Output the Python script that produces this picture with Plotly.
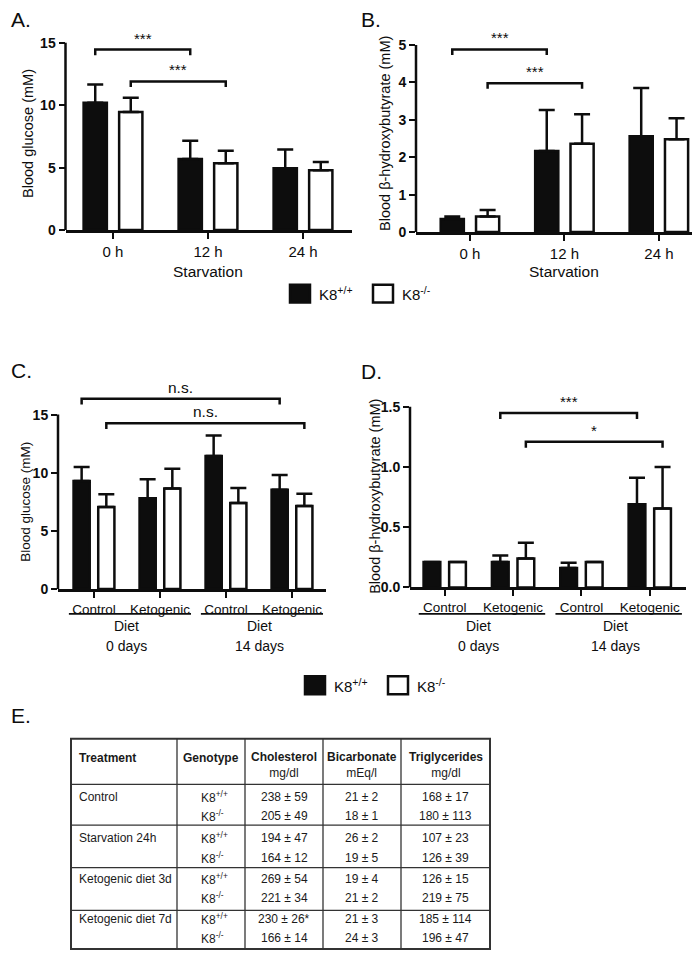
import plotly.graph_objects as go

W, H = 700, 953
FONT = "Liberation Sans, Arial, Helvetica, sans-serif"
INK = "#0d0d0d"

# ---------------- data ----------------
starvation_times = ["0 h", "12 h", "24 h"]
glucose_wt = [10.2, 5.7, 4.95]
glucose_wt_sd = [1.45, 1.45, 1.5]
glucose_ko = [9.45, 5.35, 4.8]
glucose_ko_sd = [1.15, 1.0, 0.65]

bhb_wt = [0.35, 2.17, 2.56]
bhb_wt_sd = [0.07, 1.09, 1.29]
bhb_ko = [0.42, 2.36, 2.48]
bhb_ko_sd = [0.17, 0.79, 0.56]

diet_labels = ["Control", "Ketogenic", "Control", "Ketogenic"]
diet_group_labels = ["0 days", "14 days"]
diet_glucose_wt = [9.3, 7.8, 11.45, 8.55]
diet_glucose_wt_sd = [1.2, 1.65, 1.75, 1.25]
diet_glucose_ko = [7.05, 8.65, 7.4, 7.15]
diet_glucose_ko_sd = [1.1, 1.7, 1.3, 1.05]
diet_bhb_wt = [0.21, 0.21, 0.16, 0.69]
diet_bhb_wt_sd = [0.0, 0.055, 0.045, 0.22]
diet_bhb_ko = [0.21, 0.24, 0.21, 0.655]
diet_bhb_ko_sd = [0.0, 0.13, 0.0, 0.345]

genotypes = ["K8<sup>+/+</sup>", "K8<sup>-/-</sup>"]

# significance brackets: (group a, series a, group b, series b, level, label)
sig_A = [(0, 0, 1, 0, 14.45, "***"), (0, 1, 1, 1, 11.9, "***")]
sig_B = [(0, 0, 1, 0, 4.88, "***"), (0, 1, 1, 1, 3.98, "***")]
sig_C = [(0, 0, 3, 0, 16.37, "n.s."), (0, 1, 3, 1, 14.26, "n.s.")]
sig_D = [(1, 0, 3, 0, 1.447, "***"), (1, 1, 3, 1, 1.209, "*")]

table_columns = ["Treatment", "Genotype", "Cholesterol", "Bicarbonate", "Triglycerides"]
table_units = ["", "", "mg/dl", "mEq/l", "mg/dl"]
table_treatments = ["Control", "Starvation 24h", "Ketogenic diet 3d", "Ketogenic diet 7d"]
cholesterol_wt = ["238 ± 59", "194 ± 47", "269 ± 54", "230 ± 26*"]
cholesterol_ko = ["205 ± 49", "164 ± 12", "221 ± 34", "166 ± 14"]
bicarbonate_wt = ["21 ± 2", "26 ± 2", "19 ± 4", "21 ± 3"]
bicarbonate_ko = ["18 ± 1", "19 ± 5", "21 ± 2", "24 ± 3"]
triglycerides_wt = ["168 ± 17", "107 ± 23", "126 ± 15", "185 ± 114"]
triglycerides_ko = ["180 ± 113", "126 ± 39", "219 ± 75", "196 ± 47"]

# ---------------- geometry helpers ----------------
def PX(x):
    return x / W


def PY(y):
    return 1 - y / H


SERIES_CENTER = [-0.187, 0.187]
BAR_W = 0.245
SERIES_STYLE = [dict(fill=INK), dict(fill="white")]

panels = [
    dict(n=1, labels=starvation_times,
         series=[(glucose_wt, glucose_wt_sd), (glucose_ko, glucose_ko_sd)],
         xrange=[-0.5, 2.52], xpx=(57.5, 344.4), y0px=224, ppu=12.6, ymax=16.5,
         tickvals=[0, 5, 10, 15], tickfmt="", drop=0.45, sig=sig_A, sigsize=15,
         tickfont=15, ytitle="Blood glucose (mM)", ytitle_xy=(20, 127), ytitle_size=14.5),
    dict(n=2, labels=starvation_times,
         series=[(bhb_wt, bhb_wt_sd), (bhb_ko, bhb_ko_sd)],
         xrange=[-0.571, 2.52], xpx=(408, 700), y0px=226, ppu=37.74, ymax=5.5,
         tickvals=[0, 1, 2, 3, 4, 5], tickfmt="", drop=0.15, sig=sig_B, sigsize=15,
         tickfont=15, ytitle="Blood β-hydroxybutyrate (mM)", ytitle_xy=(377, 127), ytitle_size=14.5),
    dict(n=3, labels=diet_labels,
         series=[(diet_glucose_wt, diet_glucose_wt_sd), (diet_glucose_ko, diet_glucose_ko_sd)],
         xrange=[-0.545, 3.515], xpx=(50, 318), y0px=586, ppu=11.73, ymax=17.0,
         tickvals=[0, 5, 10, 15], tickfmt="", drop=0.5, sig=sig_C, sigsize=15.5,
         tickfont=13.5, ytitle="Blood glucose (mM)", ytitle_xy=(18, 498), ytitle_size=13.5),
    dict(n=4, labels=diet_labels,
         series=[(diet_bhb_wt, diet_bhb_wt_sd), (diet_bhb_ko, diet_bhb_ko_sd)],
         xrange=[-0.508, 3.53], xpx=(402, 678), y0px=584.3, ppu=121.5, ymax=1.6,
         tickvals=[0, 0.5, 1.0, 1.5], tickfmt=".1f", drop=0.05, sig=sig_D, sigsize=15,
         tickfont=13.5, ytitle="Blood β-hydroxybutyrate (mM)", ytitle_xy=(367, 492), ytitle_size=14.5),
]

fig = go.Figure()
shapes = []
annotations = []
layout_axes = {}

for p in panels:
    n = p["n"]
    xid = "x" if n == 1 else f"x{n}"
    yid = "y" if n == 1 else f"y{n}"
    xkey = "xaxis" if n == 1 else f"xaxis{n}"
    ykey = "yaxis" if n == 1 else f"yaxis{n}"
    xs = list(range(len(p["labels"])))

    for s, (vals, sds) in enumerate(p["series"]):
        fig.add_trace(go.Bar(
            x=xs, y=vals, width=BAR_W, offset=SERIES_CENTER[s] - BAR_W / 2,
            marker=dict(color=SERIES_STYLE[s]["fill"], line=dict(color=INK, width=2.5)),
            error_y=dict(type="data", array=sds, arrayminus=[0] * len(sds), symmetric=False,
                         color=INK, thickness=2.5, width=8),
            xaxis=xid, yaxis=yid, showlegend=False, hoverinfo="skip"))

    ytop_px = p["y0px"] - p["ymax"] * p["ppu"]
    layout_axes[xkey] = dict(
        domain=[PX(p["xpx"][0]), PX(p["xpx"][1])], range=p["xrange"], anchor=yid,
        tickmode="array", tickvals=xs, ticktext=p["labels"],
        showline=True, linecolor=INK, linewidth=2.5, ticks="outside", ticklen=6,
        tickwidth=2, tickcolor=INK, showgrid=False, zeroline=False,
        tickfont=dict(family=FONT, size=p["tickfont"], color=INK), fixedrange=True)
    layout_axes[ykey] = dict(
        domain=[PY(p["y0px"]), PY(ytop_px)], range=[0, p["ymax"]], anchor=xid,
        tickmode="array", tickvals=p["tickvals"], tickformat=p["tickfmt"],
        showline=False, ticks="outside", ticklen=6, tickwidth=2, tickcolor=INK,
        showgrid=False, zeroline=False,
        tickfont=dict(family=FONT, size=14, color=INK, weight="bold"), fixedrange=True)

    # visible y axis line up to the last tick
    shapes.append(dict(type="line", xref=f"{xid} domain", yref=yid, x0=0, x1=0,
                       y0=0, y1=max(p["tickvals"]), line=dict(color=INK, width=2.5)))

    # significance brackets
    for ga, sa, gb, sb, lvl, lab in p["sig"]:
        xa = ga + SERIES_CENTER[sa]
        xb = gb + SERIES_CENTER[sb]
        d = p["drop"]
        shapes.append(dict(type="path", xref=xid, yref=yid,
                           path=f"M {xa},{lvl - d} L {xa},{lvl} L {xb},{lvl} L {xb},{lvl - d}",
                           line=dict(color=INK, width=2.5)))
        annotations.append(dict(x=(xa + xb) / 2, y=lvl, xref=xid, yref=yid, text=lab,
                                showarrow=False, yanchor="bottom", yshift=1,
                                font=dict(family=FONT, size=p["sigsize"], color=INK)))

    # y titles
    tx, ty = p["ytitle_xy"]
    annotations.append(dict(x=PX(tx), y=PY(ty), xref="paper", yref="paper", text=p["ytitle"],
                            textangle=-90, showarrow=False, xanchor="center", yanchor="middle",
                            font=dict(family=FONT, size=p["ytitle_size"], color=INK)))

    if n in (1, 2):
        annotations.append(dict(x=1, y=PY(266), xref=xid, yref="paper", text="Starvation",
                                showarrow=False, xanchor="center", yanchor="middle",
                                font=dict(family=FONT, size=15.5, color=INK)))
    else:
        for g, glab in enumerate(diet_group_labels):
            x0 = 2 * g - 0.38
            x1 = 2 * g + 1.47
            shapes.append(dict(type="line", xref=xid, yref="paper", x0=x0, x1=x1,
                               y0=PY(611), y1=PY(611), line=dict(color=INK, width=1.6)))
            annotations.append(dict(x=2 * g + 0.5, y=PY(623), xref=xid, yref="paper", text="Diet",
                                    showarrow=False, xanchor="center", yanchor="middle",
                                    font=dict(family=FONT, size=14, color=INK)))
            annotations.append(dict(x=2 * g + 0.5, y=PY(643), xref=xid, yref="paper", text=glab,
                                    showarrow=False, xanchor="center", yanchor="middle",
                                    font=dict(family=FONT, size=14, color=INK)))

# panel letters
for lab, (lx, ly) in zip(["A.", "B.", "C.", "D.", "E."],
                         [(1, 12), (351, 12), (1, 366), (351, 367), (1, 713)]):
    annotations.append(dict(x=PX(lx), y=PY(ly), xref="paper", yref="paper", text=lab,
                            showarrow=False, xanchor="left", yanchor="middle",
                            font=dict(family=FONT, size=21, color=INK)))

# legends (two, one under each row of charts)
for (bx, wx, ly) in [(282, 365, 288), (297, 380, 683)]:
    for s, sx in enumerate([bx, wx]):
        shapes.append(dict(type="rect", xref="paper", yref="paper",
                           x0=PX(sx), x1=PX(sx + 20), y0=PY(ly + 9), y1=PY(ly - 9),
                           fillcolor=SERIES_STYLE[s]["fill"], line=dict(color=INK, width=2.5)))
        annotations.append(dict(x=PX(sx + 27), y=PY(ly), xref="paper", yref="paper",
                                text=genotypes[s], showarrow=False, xanchor="left", yanchor="middle",
                                font=dict(family=FONT, size=15, color=INK)))

# ---------------- table E ----------------
TCOL = [63, 169, 237, 315, 393, 482]
TROW = [737, 783, 824, 867, 910, 949]
LINE_Y = [(796, 815), (837, 857), (878, 898), (919, 938)]
TAB_INK = "#1a1a1a"
TFS = 12

shapes.append(dict(type="rect", xref="paper", yref="paper", x0=PX(TCOL[0]), x1=PX(TCOL[-1]),
                   y0=PY(TROW[-1]), y1=PY(TROW[0]), line=dict(color="#333333", width=2)))
for cx in TCOL[1:-1]:
    shapes.append(dict(type="line", xref="paper", yref="paper", x0=PX(cx), x1=PX(cx),
                       y0=PY(TROW[0]), y1=PY(TROW[-1]), line=dict(color="#333333", width=1.3)))
for ry in TROW[1:-1]:
    shapes.append(dict(type="line", xref="paper", yref="paper", x0=PX(TCOL[0]), x1=PX(TCOL[-1]),
                       y0=PY(ry), y1=PY(ry), line=dict(color="#333333", width=1.3)))

# header
for c, (name, unit) in enumerate(zip(table_columns, table_units)):
    if c == 0:
        ax, anc = TCOL[0] + 6, "left"
    else:
        ax, anc = (TCOL[c] + TCOL[c + 1]) / 2, "center"
    txt = f"<b>{name}</b>" + (f"<br>{unit}" if unit else "")
    yy = 763 if unit else 756
    annotations.append(dict(x=PX(ax), y=PY(yy), xref="paper", yref="paper", text=txt,
                            showarrow=False, xanchor=anc, yanchor="middle", align="center",
                            font=dict(family=FONT, size=TFS, color=TAB_INK)))

value_cols = [(cholesterol_wt, cholesterol_ko), (bicarbonate_wt, bicarbonate_ko),
              (triglycerides_wt, triglycerides_ko)]
for r, treat in enumerate(table_treatments):
    y1, y2 = LINE_Y[r]
    annotations.append(dict(x=PX(TCOL[0] + 6), y=PY(y1), xref="paper", yref="paper", text=treat,
                            showarrow=False, xanchor="left", yanchor="middle",
                            font=dict(family=FONT, size=TFS, color=TAB_INK)))
    for g, yy in enumerate([y1, y2]):
        annotations.append(dict(x=PX(191), y=PY(yy), xref="paper", yref="paper", text=genotypes[g],
                                showarrow=False, xanchor="left", yanchor="middle",
                                font=dict(family=FONT, size=TFS, color=TAB_INK)))
    for c, (wt_vals, ko_vals) in enumerate(value_cols):
        cx = (TCOL[c + 2] + TCOL[c + 3]) / 2
        for yy, v in [(y1, wt_vals[r]), (y2, ko_vals[r])]:
            annotations.append(dict(x=PX(cx), y=PY(yy), xref="paper", yref="paper", text=v,
                                    showarrow=False, xanchor="center", yanchor="middle",
                                    font=dict(family=FONT, size=TFS, color=TAB_INK)))

fig.update_layout(
    width=W, height=H, autosize=False,
    margin=dict(l=0, r=0, t=0, b=0, pad=0),
    paper_bgcolor="white", plot_bgcolor="rgba(0,0,0,0)",
    barmode="overlay", showlegend=False,
    font=dict(family=FONT, color=INK),
    shapes=shapes, annotations=annotations,
    **layout_axes,
)

fig.write_html("out.html")
